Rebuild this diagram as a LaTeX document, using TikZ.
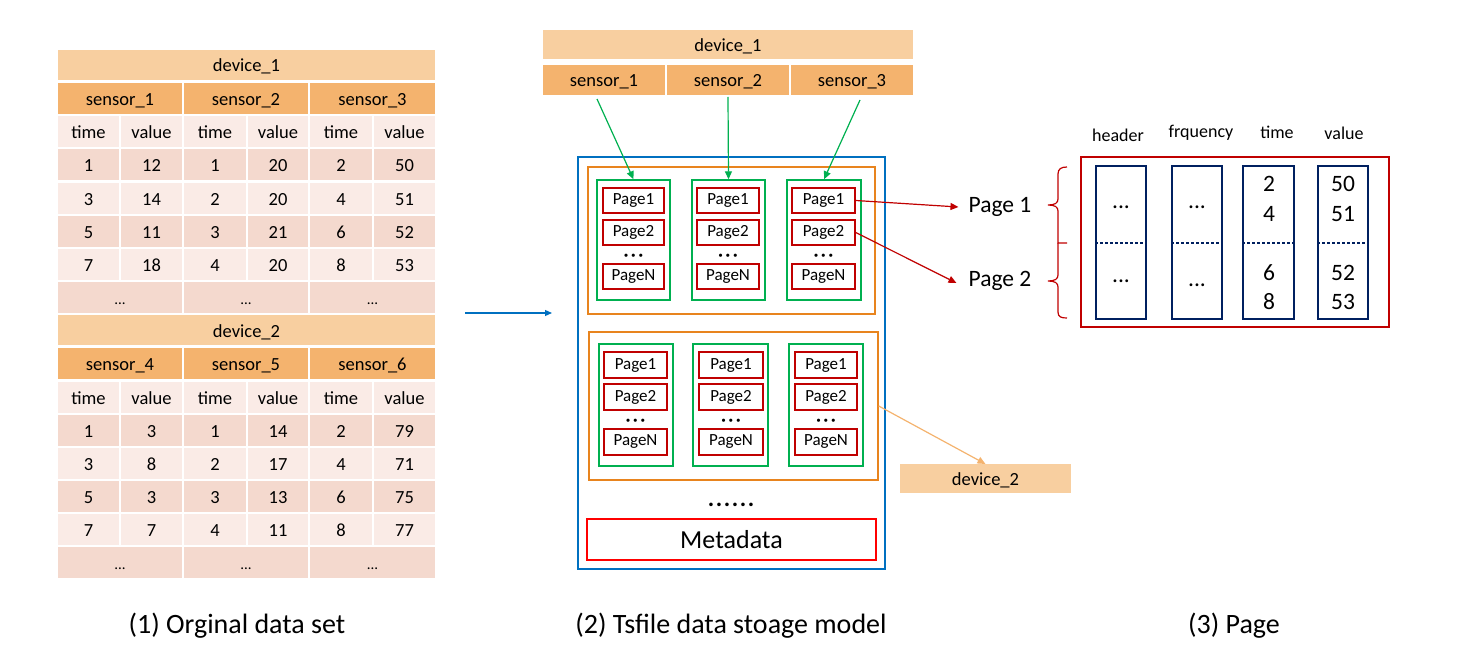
\documentclass[tikz,border=0pt]{standalone}
\usepackage{fontspec}
\setmainfont{Carlito}
\usetikzlibrary{arrows.meta}
\definecolor{devc}{HTML}{F8CFA0}
\definecolor{senc}{HTML}{F4B36E}
\definecolor{darkc}{HTML}{F4D9CE}
\definecolor{lightc}{HTML}{FAEBE6}
\definecolor{bluec}{HTML}{0070C0}
\definecolor{orgc}{HTML}{E8841E}
\definecolor{grnc}{HTML}{00B050}
\definecolor{redc}{HTML}{C00000}
\definecolor{navyc}{HTML}{002060}
\definecolor{brightred}{HTML}{FF0000}
\newcommand\fs[1]{\fontsize{#1}{#1}\selectfont}
\newcommand\rbox[6][]{\node[#1, minimum width={((#5)-(#3))*1pt}, minimum height={((#6)-(#4))*1pt}] (#2) at ({((#3)+(#5))/2},{((#4)+(#6))/2})}
\tikzset{
  cellbox/.style={inner sep=0pt, outer sep=0pt, font=\fs{18.5}, text=black, text height=17pt, text depth=3pt},
  pagebox/.style={draw=redc, line width=1.4pt, inner sep=0pt, font=\fs{17}},
  chunkbox/.style={draw=grnc, line width=1.4pt, inner sep=0pt},
  groupbox/.style={draw=orgc, line width=1.4pt, inner sep=0pt},
  colbox/.style={draw=navyc, line width=1.4pt, inner sep=0pt},
  garrow/.style={draw=grnc, line width=1.2pt, -{Triangle[length=8pt,width=7pt]}},
  rarrow/.style={draw=redc, line width=1.2pt, -{Triangle[length=8pt,width=7pt]}},
  dots/.style={inner sep=0pt, font=\fs{17}\bfseries},
  bigtxt/.style={inner sep=0pt, font=\fs{23.5}},
  caption/.style={inner sep=0pt, font=\fs{28}},
  brace/.style={draw=redc, line width=1.2pt},
}
\newcommand\drawtable[7]{%
  \pgfmathsetmacro\tb{50+#2}
  \rbox[cellbox,fill=devc]{#1dev}{58}{\tb}{435}{\tb+30}{#3};
  \pgfmathsetmacro\tb{50+#2+33.15}
  \rbox[cellbox,fill=senc]{#1s1}{58}{\tb}{182}{\tb+30.5}{#4};
  \rbox[cellbox,fill=senc]{#1s2}{184}{\tb}{308}{\tb+30.5}{#5};
  \rbox[cellbox,fill=senc]{#1s3}{310}{\tb}{435}{\tb+30.5}{#6};
  \pgfmathsetmacro\tb{50+#2+33.15*2}
  \rbox[cellbox,fill=lightc]{#1h1}{58}{\tb}{119}{\tb+31}{time};
  \rbox[cellbox,fill=lightc]{#1h2}{121}{\tb}{182}{\tb+31}{value};
  \rbox[cellbox,fill=lightc]{#1h3}{184}{\tb}{246}{\tb+31}{time};
  \rbox[cellbox,fill=lightc]{#1h4}{248}{\tb}{308}{\tb+31}{value};
  \rbox[cellbox,fill=lightc]{#1h5}{310}{\tb}{372}{\tb+31}{time};
  \rbox[cellbox,fill=lightc]{#1h6}{374}{\tb}{435}{\tb+31}{value};
  \foreach \a/\b/\c/\d/\e/\f [count=\k] in {#7} {
    \pgfmathsetmacro\tb{50+#2+33.15*(\k+2)}
    \ifodd\k \def\rc{darkc}\else\def\rc{lightc}\fi
    \rbox[cellbox,fill=\rc]{#1r\k c1}{58}{\tb}{119}{\tb+31}{\a};
    \rbox[cellbox,fill=\rc]{#1r\k c2}{121}{\tb}{182}{\tb+31}{\b};
    \rbox[cellbox,fill=\rc]{#1r\k c3}{184}{\tb}{246}{\tb+31}{\c};
    \rbox[cellbox,fill=\rc]{#1r\k c4}{248}{\tb}{308}{\tb+31}{\d};
    \rbox[cellbox,fill=\rc]{#1r\k c5}{310}{\tb}{372}{\tb+31}{\e};
    \rbox[cellbox,fill=\rc]{#1r\k c6}{374}{\tb}{435}{\tb+31}{\f};
  }
  \pgfmathsetmacro\tb{50+#2+33.15*7}
  \rbox[cellbox,fill=darkc,font=\fs{15}]{#1e1}{58}{\tb}{182}{\tb+31}{...};
  \rbox[cellbox,fill=darkc,font=\fs{15}]{#1e2}{184}{\tb}{308}{\tb+31}{...};
  \rbox[cellbox,fill=darkc,font=\fs{15}]{#1e3}{310}{\tb}{435}{\tb+31}{...};
}
\begin{document}
\begin{tikzpicture}[x=1pt,y=-1pt]
\useasboundingbox (0,0) rectangle (1470,663);

% ---------- (1) original data set ----------
\drawtable{A}{0}{device\_1}{sensor\_1}{sensor\_2}{sensor\_3}{1/12/1/20/2/50,3/14/2/20/4/51,5/11/3/21/6/52,7/18/4/20/8/53}
\drawtable{B}{265.3}{device\_2}{sensor\_4}{sensor\_5}{sensor\_6}{1/3/1/14/2/79,3/8/2/17/4/71,5/3/3/13/6/75,7/7/4/11/8/77}

\coordinate (bs) at (465,313);
\coordinate (be) at (552,313);
\draw[draw=bluec, line width=1.2pt, -{Triangle[length=7pt,width=6pt]}] (bs) -- (be);

% ---------- (2) tsfile ----------
\rbox[cellbox,fill=devc]{mdev}{543}{30}{913}{59}{device\_1};
\rbox[cellbox,fill=senc]{ms1}{543}{65}{665}{95}{sensor\_1};
\rbox[cellbox,fill=senc]{ms2}{667}{65}{789}{95}{sensor\_2};
\rbox[cellbox,fill=senc]{ms3}{791}{65}{913}{95}{sensor\_3};

\rbox[draw=bluec,line width=1.4pt,inner sep=0pt]{tsfile}{578}{157}{885}{569}{};
\rbox[groupbox]{grpA}{588}{167}{875}{314}{};
\rbox[groupbox]{grpB}{589}{332}{878}{480}{};

% top chunks
\foreach \n/\cx/\cxx/\px/\pxx in {1/597/670/603/664, 2/692/765/697/759, 3/787/861/792/855} {
  \rbox[chunkbox]{ca\n}{\cx}{180}{\cxx}{300}{};
  \rbox[pagebox]{pa\n p1}{\px}{188}{\pxx}{213}{Page1};
  \rbox[pagebox]{pa\n p2}{\px}{220}{\pxx}{245}{Page2};
  \node[dots] (pa\n d) at ({(\px+\pxx)/2},257) {·\,·\,·};
  \rbox[pagebox]{pa\n pn}{\px}{264}{\pxx}{289}{PageN};
}
% bottom chunks
\foreach \n/\cx/\cxx/\px/\pxx in {1/599/673/604/667, 2/693/768/699/763, 3/789/863/795/857} {
  \rbox[chunkbox]{cb\n}{\cx}{344}{\cxx}{466}{};
  \rbox[pagebox]{pb\n p1}{\px}{352}{\pxx}{378}{Page1};
  \rbox[pagebox]{pb\n p2}{\px}{384}{\pxx}{410}{Page2};
  \node[dots] (pb\n d) at ({(\px+\pxx)/2},422) {·\,·\,·};
  \rbox[pagebox]{pb\n pn}{\px}{429}{\pxx}{455}{PageN};
}
\node[inner sep=0pt, font=\fs{24}\bfseries] (moredots) at (731,505) {.\kern1.6pt.\kern1.6pt.\kern1.6pt.\kern1.6pt.\kern1.6pt.};
\rbox[draw=brightred,line width=1.4pt,inner sep=0pt,font=\fs{26}]{meta}{587}{519}{876}{560}{Metadata};

\draw[garrow] ([xshift=-7pt,yshift=-4pt]ms1.south) -- (ca1.north);
\draw[garrow] ([yshift=-2pt]ms2.south) -- (ca2.north);
\draw[garrow] ([xshift=8pt,yshift=-5pt]ms3.south) -- (ca3.north);

\rbox[cellbox,fill=devc]{dev2}{900}{464}{1071}{493}{device\_2};
\draw[draw=senc, line width=1.2pt, -{Triangle[length=8pt,width=7pt]}] (grpB.east) -- (dev2.north);

% ---------- (3) page ----------
\node[bigtxt] (lp1) at (1000,207) {Page 1};
\node[bigtxt] (lp2) at (1000,281) {Page 2};
\draw[rarrow] (pa3p1.east) -- ([xshift=-10pt]lp1.west);
\draw[rarrow] (pa3p2.east) -- ([xshift=-12pt,yshift=-2pt]lp2.west);

\draw[brace] (1067,167) .. controls (1061,167) and (1058,169) .. (1058,174) -- (1058,199)
  .. controls (1058,203) and (1055,205) .. (1048,205)
  .. controls (1055,205) and (1058,207) .. (1058,211) -- (1058,243) -- (1067,243);
\draw[brace] (1058,243) -- (1058,275)
  .. controls (1058,279) and (1055,281) .. (1048,281)
  .. controls (1055,281) and (1058,283) .. (1058,287) -- (1058,312)
  .. controls (1058,317) and (1061,318) .. (1067,318);

\rbox[draw=redc,line width=1.4pt,inner sep=0pt]{pgbox}{1081}{157}{1389}{327}{};
\rbox[colbox]{chdr}{1096}{166}{1146}{319}{};
\rbox[colbox]{cfrq}{1172}{166}{1222}{319}{};
\rbox[colbox]{ctim}{1243}{166}{1294}{319}{};
\rbox[colbox]{cval}{1318}{166}{1368}{319}{};
\foreach \c in {chdr,cfrq,ctim,cval} {
  \draw[draw=navyc, line width=2pt, dash pattern=on 2.5pt off 2.5pt] (\c.west |- 0,243) -- (\c.east |- 0,243);
}
\node[inner sep=0pt, font=\fs{18}] (thdr) at (1118,135) {header};
\node[inner sep=0pt, font=\fs{18}] (tfrq) at (1201,133) {frquency};
\node[inner sep=0pt, font=\fs{18}] (ttim) at (1277,132) {time};
\node[inner sep=0pt, font=\fs{18}] (tval) at (1344,133) {value};

\node[bigtxt] (h1) at (1121,207) {...};
\node[bigtxt] (h2) at (1121,281) {...};
\node[bigtxt] (f1) at (1197,207) {...};
\node[bigtxt] (f2) at (1197,285) {...};
\node[bigtxt] (t1) at (1269,184) {2};
\node[bigtxt] (t2) at (1269,214) {4};
\node[bigtxt] (t3) at (1269,273) {6};
\node[bigtxt] (t4) at (1269,302) {8};
\node[bigtxt] (v1) at (1343,184) {50};
\node[bigtxt] (v2) at (1343,214) {51};
\node[bigtxt] (v3) at (1343,273) {52};
\node[bigtxt] (v4) at (1343,302) {53};

% ---------- captions ----------
\node[caption] (cap1) at (237,626) {(1) Orginal data set};
\node[caption] (cap2) at (731,626) {(2) Tsfile data stoage model};
\node[caption] (cap3) at (1234,626) {(3) Page};
\end{tikzpicture}
\end{document}
